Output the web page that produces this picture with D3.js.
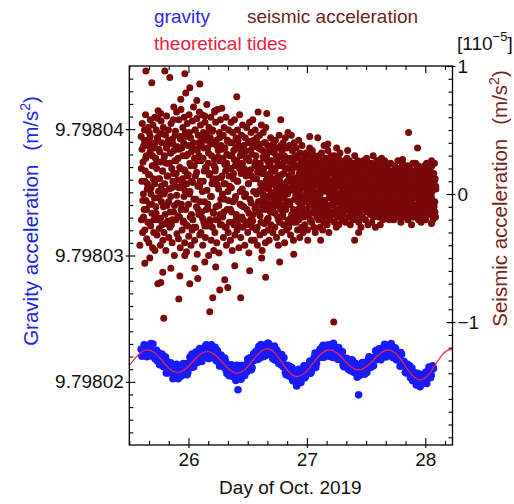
<!DOCTYPE html>
<html><head><meta charset="utf-8">
<script src="https://cdn.jsdelivr.net/npm/d3@7"></script>
<style>body{margin:0;background:#fff;} text{font-family:"Liberation Sans",Arial,sans-serif;}</style>
</head><body><svg id="c" width="514" height="504"></svg>
<script>
// ---------------- DATA ----------------
const dayDomain = [25.5, 28.23];                 // Day of Oct. 2019
const dayTickValues = [26, 27, 28];
const dayTickLabels = ["26", "27", "28"];
// gravity in µGal (1e-8 m/s²) relative to 9.79802 m/s²
const gravityDomain = [-500, 2500];
const gravityTickValues = [0, 1000, 2000];
const gravityTickLabels = ["9.79802", "9.79803", "9.79804"];
// seismic acceleration in 1e-7 m/s²
const seismicDomain = [-196, 100];
const seismicTickValues = [-100, 0, 100];
const seismicTickLabels = ["\u22121", "0", "1"];

// theoretical tides (day, µGal rel. 9.79802)
const tideDays = [25.400,25.4635,25.527,25.5905,25.654,25.717,25.7805,25.844,25.907,25.970,26.0335,26.097,26.160,26.223,26.2865,26.350,26.413,26.4765,26.540,26.6035,26.667,26.729,26.791,26.853,26.915,26.984,27.0525,27.121,27.190,27.252,27.3135,27.375,27.437,27.500,27.5635,27.627,27.690,27.757,27.824,27.891,27.958,28.022,28.0855,28.149,28.213,28.276];
const tideValues = [70,97,162,226,253,227,164,100,74,98,157,216,240,215,155,94,69,97,165,233,261,229,152,74,42,73,148,222,253,230,174,118,95,118,174,230,253,218,135,51,16,51,136,220,255,228];

// gravity samples, µGal rel. 9.79802 (two interleaved 18-min series)
const gravityStartDay = 25.6;
const gravityStepDay = 0.0125;
const gravityValues = [
258,211,293,241,198,287,255,205,299,211,
235,164,227,178,220,121,152,69,157,80,
150,72,41,97,139,24,76,115,55,138,
92,57,148,196,113,166,154,236,153,223,
258,161,263,232,294,210,248,190,265,208,
274,164,212,125,212,153,115,162,65,129,
89,135,43,88,10,109,50,128,69,116,
51,127,180,103,152,112,222,177,240,178,
240,295,223,200,289,256,305,222,272,183,
283,210,241,145,199,216,119,127,56,130,
47,80,111,9,39,87,18,75,-5,67,
126,41,108,86,165,84,150,195,114,213,
192,259,195,290,222,248,292,203,267,215,
305,234,261,177,231,175,238,120,172,185,
99,153,103,165,74,144,36,100,136,79,
119,60,153,122,198,114,186,128,195,247,
184,259,174,257,234,294,212,283,237,304,
193,240,260,182,224,124,218,131,148,71,
139,78,33,109,17,63,-25,29,61,-24,
39,9,67,-13,60,109,55,127];
const gravityStartDayB = 25.60625;
const gravityValuesB = [
202,255,290,202,238,281,303,217,240,181,
250,223,135,167,208,119,196,138,71,100,
116,24,129,56,84,115,43,78,144,73,
137,73,145,127,220,118,185,227,173,263,
202,255,195,283,235,184,257,293,217,249,
174,248,186,129,195,132,189,91,120,49,
130,77,101,32,130,50,87,21,128,81,
132,79,132,190,95,190,170,239,187,279,
190,254,287,237,210,306,259,280,213,253,
172,253,188,212,135,153,191,74,118,79,
121,36,8,62,78,33,99,-2,79,42,
31,127,90,138,67,147,133,227,146,195,
243,205,280,194,265,220,258,293,241,193,
267,195,212,272,181,239,132,184,186,140,
144,88,174,87,142,88,121,51,83,152,
77,134,73,178,139,190,127,189,246,178,
259,214,263,206,297,196,268,233,251,281,
224,270,174,231,187,231,130,162,75,118,
71,126,51,8,73,4,67,23,-39,48,
37,-7,77,29,117,32,119,105];
const gravityExtraDays = [26.418, 26.914, 27.437];
const gravityExtraValues = [-63, -32, -103];

// seismic acceleration samples, 1e-7 m/s²
const seismicStartDay = 25.6;
const seismicStepDay = 0.003116;
const seismicValues = [
45,-20,10,55,-30,25,0,38,-12,50,-28,18,62,-5,30,-35,42,8,-22,52,
15,-38,48,-8,33,58,-25,5,40,-15,22,-42,54,12,-30,36,-3,60,-18,28,
-10,50,20,-32,44,-20,65,2,35,-27,12,47,-40,25,57,-6,40,-24,18,-36,
52,0,-30,30,8,-16,46,-44,24,61,-9,38,-21,14,50,-34,4,42,-26,32,
-2,55,-24,20,-38,43,10,58,-14,34,-48,26,6,49,-20,16,64,-31,37,-7,
28,-35,58,5,-18,45,-42,20,66,-8,36,-28,12,52,-22,40,-2,60,-38,18,
48,-12,30,-45,8,55,-25,38,15,-33,62,0,24,-18,44,-40,33,10,-28,57,
-20,40,68,-4,22,-36,50,14,-26,35,-10,59,-47,26,6,46,-16,30,64,-32,
10,54,-30,38,-14,62,2,-40,28,48,-22,18,-6,56,-34,42,20,-12,70,-25,
36,-8,24,-48,52,16,-20,44,-2,60,-36,30,8,-26,50,-14,40,-44,22,64,
-30,20,56,-10,42,-38,12,66,-20,34,4,-46,48,26,-16,58,-4,38,-24,14,
46,-18,28,-34,8,52,-4,36,-26,18,60,-40,24,-12,42,2,-30,50,14,-22,
6,40,-36,20,56,-14,30,-44,48,-6,12,34,-24,58,-32,22,-2,44,-16,26,
-28,50,10,-20,38,-42,24,62,-8,30,-34,16,46,-18,4,54,-26,36,-10,20,
32,-40,44,0,-22,28,52,-12,18,-30,40,8,-46,26,56,-4,34,-20,48,-36,
14,-26,38,58,-16,2,42,-36,22,50,-10,30,-28,12,44,-40,18,64,-6,36,
-14,46,-32,24,8,-22,54,16,-44,34,-4,48,20,-30,40,-12,28,-38,52,6,
30,-20,12,38,-28,4,22,-36,34,-8,16,44,-24,26,-14,36,0,-30,20,40,
-10,32,-26,18,42,-4,28,-34,10,36,-18,24,-40,14,46,-22,6,30,-12,38,
22,-30,34,2,-16,40,-24,16,30,-38,8,44,-12,26,-28,36,-6,20,48,-20,
-26,14,38,-8,28,-32,20,46,-16,6,34,-22,24,-36,12,40,-4,30,-18,10,
36,-14,4,30,-28,22,-6,42,-20,16,-34,32,8,-10,26,-26,38,-2,18,-30,
20,-18,8,28,-24,14,-6,32,-12,24,2,-28,18,-16,30,-4,12,36,-20,6,
-8,26,-22,16,34,-14,4,22,-26,10,30,-10,-30,20,0,28,-18,14,-2,24,
12,-20,30,-4,18,-26,24,6,-16,32,-10,16,-28,26,8,-22,38,-6,20,-14,
28,-12,2,22,-24,14,34,-18,10,-30,26,-2,18,-20,30,4,-14,24,-8,16,
-16,20,-4,30,-22,8,26,-12,16,-26,36,0,22,-18,10,28,-24,14,-6,32,
18,-14,6,24,-20,10,-4,22,-16,14,0,26,-10,16,-22,20,4,-12,28,-6,
-2,20,-18,12,26,-8,16,-24,8,22,-12,2,18,-20,24,-4,14,-16,10,30,
14,-10,22,-20,4,18,-14,26,-6,10,-22,20,0,-16,24,8,-26,16,-8,22,
-18,12,26,-6,16,-12,22,2,-20,18,-4,28,-14,8,20,-24,12,-2,24,-10,
8,-16,20,-2,24,-22,10,16,-10,30,-18,4,22,-8,14,-26,18,6,-12,26,
20,-6,12,-18,26,2,-14,22,-24,8,16,-10,28,-4,18,-20,10,24,-16,4,
-12,16,4,-18,20,-6,12,-14,22,0,-10,18,-20,8,14,-4,24,-16,6,-8,
10,-16,18,-2,14,-20,6,22,-12,2,16,-8,20,-18,12,-4,26,-14,4,18,
-6,20,-14,8,-22,16,2,-10,24,-18,10,-2,18,-12,6,22,-16,14,-8,12,
16,-8,6,-20,22,-4,12,-16,20,4,-12,18,-6,-24,14,8,-18,24,0,-10,
-2,14,-18,10,24,-12,4,20,-16,8,-8,22,-20,12,2,-14,18,-6,16,-22,
12,-10,20,-4,-18,16,6,-14,22,-2,10,-20,14,-8,24,0,-16,18,-12,6,
-14,18,2,-8,20,-16,10,-4,22,-12,14,-20,6,16,-10,24,-6,12,-18,4];
const seismicStartDayB = 25.6015;
const seismicStepDayB = 0.006232;
const seismicValuesB = [
20,35,-5,-18,42,10,28,-12,4,38,-22,15,45,0,-8,30,22,-20,8,40,
-15,25,44,12,-3,33,-19,6,47,18,-10,29,2,-23,36,14,41,-6,24,-14,
32,5,-20,39,16,-9,46,26,-1,11,-17,35,21,43,-12,7,30,-21,19,3,
45,-24,14,31,-8,48,2,22,-16,37,9,-26,28,50,-4,17,34,-12,40,6,
-6,26,43,-19,10,36,-25,21,47,3,-11,32,15,-22,39,-2,49,12,-15,27,
18,-20,38,7,29,-9,44,-24,13,35,0,46,-14,23,8,-26,31,41,-5,20,
30,-12,5,40,-22,16,27,-4,36,-18,10,42,-25,20,2,33,-9,24,-20,38,
-2,34,14,-24,28,8,-15,41,19,-7,31,-21,12,37,-11,25,0,-26,17,39,
22,-17,35,4,-10,29,16,-23,40,9,-5,26,-19,33,13,-14,21,36,-8,1,
18,-15,6,27,-9,22,-20,12,29,-3,15,-18,24,2,-12,20,28,-6,10,-21,
-8,25,11,-19,17,4,26,-14,8,21,-22,13,-1,28,-11,19,5,-16,23,-4,
14,-12,6,20,-16,10,-3,22,-9,16,1,-15,18,-6,12,23,-13,8,-1,19,
-10,17,3,-14,21,-5,12,-17,15,7,-8,20,-12,4,18,-3,10,-16,22,0,
9,-14,19,-2,13,-17,6,21,-7,11,-11,16,2,-15,20,-4,14,-9,23,-12,
-6,12,-13,4,16,-9,8,-14,18,1,-4,11,-11,15,-1,7,-12,17,3,-8,
10,-3,14,-12,5,17,-7,2,-13,13,-5,9,18,-10,6,-14,12,0,-8,15,
-11,7,15,-4,-13,11,3,16,-8,9,-14,13,-2,6,17,-9,4,-12,14,-1,
5,-10,13,-3,15,-12,8,-6,16,1,-13,11,-4,14,-9,6,12,-14,3,10,
-7,11,-12,4,15,-5,9,-13,13,0,-9,16,-3,7,-11,12,2,-14,10,-2,
8,-11,14,-6,3,12,-13,9,-4,15,-9,5,11,-12,2,13,-7,10,-14,6];
const seismicStartDayC = 26.6;
const seismicStepDayC = 0.00987;
const seismicValuesC = [
3,-6,8,0,-9,5,11,-2,6,-11,1,9,-4,12,-7,4,-1,10,-8,2,
7,-3,-10,5,0,11,-6,3,8,-12,4,-1,9,-5,6,1,-9,12,-3,5,
-2,8,-7,2,10,-4,6,-10,1,7,-6,11,0,-8,4,9,-5,3,-11,6,
9,-1,4,-9,12,2,-5,7,-2,10,-7,5,-12,3,8,-4,1,11,-6,0,
-5,6,10,-3,2,-8,7,0,12,-10,5,-2,8,-6,3,11,-9,1,6,-4,
4,-7,9,1,-11,6,-3,8,-1,10,-5,2,7,-9,0,12,-4,5,-8,3,
6,-2,11,-6,3,-10,8,1,-4,9,-7,4,10,-1,-12,5,2,-8,7,0,
-3,9,-5,4,1,-7,12,-2,6,-9];
const seismicExtraDays = [25.640,25.800,25.842,25.969,25.690,26.011,26.095,25.977,25.935,26.070,25.876,25.766,26.408,26.281,26.661,26.779,27.024,27.092,27.177,27.344,27.859,27.935,28.053,27.808,27.657,25.741,26.138,26.222,
25.791,26.180,25.918,26.205,25.741,25.766,25.851,25.927,26.011,26.078,26.306,26.332,26.264,25.631,25.673,25.783,26.138,26.230,26.441,26.652,26.889,27.007,27.116,27.227,27.437,28.053,25.589,25.716,25.969,26.053,26.391,26.517,26.618,26.770,27.403];
const seismicExtraValues = [96,96,91,94,87,83,86,79,74,73,68,63,76,67,63,58,45,44,39,34,48,36,26,27,26,59,61,65,
-97,-92,-82,-81,-70,-69,-58,-64,-70,-66,-67,-73,-75,-54,-50,-61,-53,-57,-81,-65,-47,-36,-36,-100,-30,-23,-40,-44,-48,-58,-56,-60,-50,-53,-36];

// ---------------- CHART ----------------
const svg = d3.select("#c");
const L = 129.3, R = 452.5, T = 66, B = 445;
const FONT = 19;
const x = d3.scaleLinear().domain(dayDomain).range([L, R]);
const yG = d3.scaleLinear().domain(gravityDomain).range([B, T]);
const yS = d3.scaleLinear().domain(seismicDomain).range([B, T]);

svg.append("defs").append("clipPath").attr("id", "clip")
  .append("rect").attr("x", L).attr("y", T).attr("width", R - L).attr("height", B - T);
const plot = svg.append("g").attr("clip-path", "url(#clip)");

const seismicPts = seismicValues.map((v, i) => [seismicStartDay + i * seismicStepDay, v])
  .concat(seismicValuesB.map((v, i) => [seismicStartDayB + i * seismicStepDayB, v]))
  .concat(seismicValuesC.map((v, i) => [seismicStartDayC + i * seismicStepDayC, v]))
  .concat(seismicExtraDays.map((d, i) => [d, seismicExtraValues[i]]));
plot.append("g").selectAll("circle").data(seismicPts).join("circle")
  .attr("cx", d => x(d[0])).attr("cy", d => yS(d[1])).attr("r", 3.5).attr("fill", "#7a0808");

const gravityPts = gravityValues.map((v, i) => [gravityStartDay + i * gravityStepDay, v])
  .concat(gravityValuesB.map((v, i) => [gravityStartDayB + i * gravityStepDay, v]))
  .concat(gravityExtraDays.map((d, i) => [d, gravityExtraValues[i]]));
plot.append("g").selectAll("circle").data(gravityPts).join("circle")
  .attr("cx", d => x(d[0])).attr("cy", d => yG(d[1])).attr("r", 3.8).attr("fill", "#1a1aff");

plot.append("path").datum(tideDays.map((d, i) => [d, tideValues[i]]))
  .attr("d", d3.line().x(d => x(d[0])).y(d => yG(d[1])).curve(d3.curveNatural))
  .attr("fill", "none").attr("stroke", "#f0284a").attr("stroke-width", 1.2);

// ---- axes ----
function style(g) {
  g.select(".domain").remove();
  g.attr("font-size", FONT).attr("font-family", "'Liberation Sans', Arial, sans-serif");
  g.selectAll("line").attr("stroke", "#000").attr("stroke-width", 1.1);
  g.selectAll("text").attr("fill", "#111");
}
const dayMinor = d3.range(153, 170).map(k => k / 6).filter(v => Math.abs(v - Math.round(v)) > 1e-6 && v >= dayDomain[0] && v <= dayDomain[1]);
const gMinor = d3.range(-4, 25).map(k => k * 100).filter(v => v % 1000 !== 0);
const sMinor = d3.range(-19, 10).map(k => k * 10).filter(v => v % 100 !== 0);

svg.append("g").attr("transform", `translate(0,${B})`)
  .call(d3.axisBottom(x).tickValues(dayMinor).tickSize(-4).tickFormat("")).call(style);
svg.append("g").attr("transform", `translate(0,${B})`)
  .call(d3.axisBottom(x).tickValues(dayTickValues).tickSizeInner(3).tickSizeOuter(0).tickPadding(5)
    .tickFormat((d, i) => dayTickLabels[i])).call(style)
  .call(g => g.selectAll(".tick line").attr("y1", -7));
svg.append("g").attr("transform", `translate(0,${T})`)
  .call(d3.axisTop(x).tickValues(dayMinor).tickSize(-4).tickFormat("")).call(style);
svg.append("g").attr("transform", `translate(0,${T})`)
  .call(d3.axisTop(x).tickValues(dayTickValues).tickSize(-7).tickFormat("")).call(style);
svg.append("g").attr("transform", `translate(${L},0)`)
  .call(d3.axisLeft(yG).tickValues(gMinor).tickSize(-4).tickFormat("")).call(style);
svg.append("g").attr("transform", `translate(${L},0)`)
  .call(d3.axisLeft(yG).tickValues(gravityTickValues).tickSizeInner(3.5).tickSizeOuter(0).tickPadding(2)
    .tickFormat((d, i) => gravityTickLabels[i])).call(style)
  .call(g => g.selectAll(".tick line").attr("x1", 6));
svg.append("g").attr("transform", `translate(${R},0)`)
  .call(d3.axisRight(yS).tickValues(sMinor).tickSize(-4).tickFormat("")).call(style);
svg.append("g").attr("transform", `translate(${R},0)`)
  .call(d3.axisRight(yS).tickValues(seismicTickValues).tickSizeInner(3).tickSizeOuter(0).tickPadding(2)
    .tickFormat((d, i) => seismicTickLabels[i])).call(style)
  .call(g => g.selectAll(".tick line").attr("x1", -6));

svg.append("rect").attr("x", L).attr("y", T).attr("width", R - L).attr("height", B - T)
  .attr("fill", "none").attr("stroke", "#000").attr("stroke-width", 1.3);

svg.append("text").attr("x", (L + R) / 2 - 0.5).attr("y", 494).attr("text-anchor", "middle")
  .attr("font-size", FONT).attr("fill", "#111").text("Day of Oct. 2019");

function vLabel(cx, cy, main, color, gap) {
  const t = svg.append("text").attr("transform", `translate(${cx},${cy}) rotate(-90)`)
    .attr("text-anchor", "middle").attr("font-size", 20.5).attr("fill", color);
  t.append("tspan").text(main);
  t.append("tspan").attr("dx", gap).text("(m/s");
  t.append("tspan").attr("font-size", 14).attr("dy", -8).text("2");
  t.append("tspan").attr("dy", 8).text(")");
}
vLabel(38, 221, "Gravity acceleration", "#2323e6", 14);
vLabel(507, 198.5, "Seismic acceleration", "#7a1f22", 14);

svg.append("text").attr("x", 154).attr("y", 23).attr("font-size", FONT).attr("fill", "#2a2ae6").text("gravity");
svg.append("text").attr("x", 247).attr("y", 23).attr("font-size", FONT).attr("fill", "#6b1e24").text("seismic acceleration");
svg.append("text").attr("x", 154).attr("y", 50).attr("font-size", FONT).attr("fill", "#ea2340").text("theoretical tides");
const u = svg.append("text").attr("x", 457).attr("y", 50).attr("font-size", FONT).attr("fill", "#111");
u.append("tspan").text("[110");
u.append("tspan").attr("font-size", 13).attr("dy", -9).text("\u22125");
u.append("tspan").attr("dy", 9).text("]");
</script></body></html>
